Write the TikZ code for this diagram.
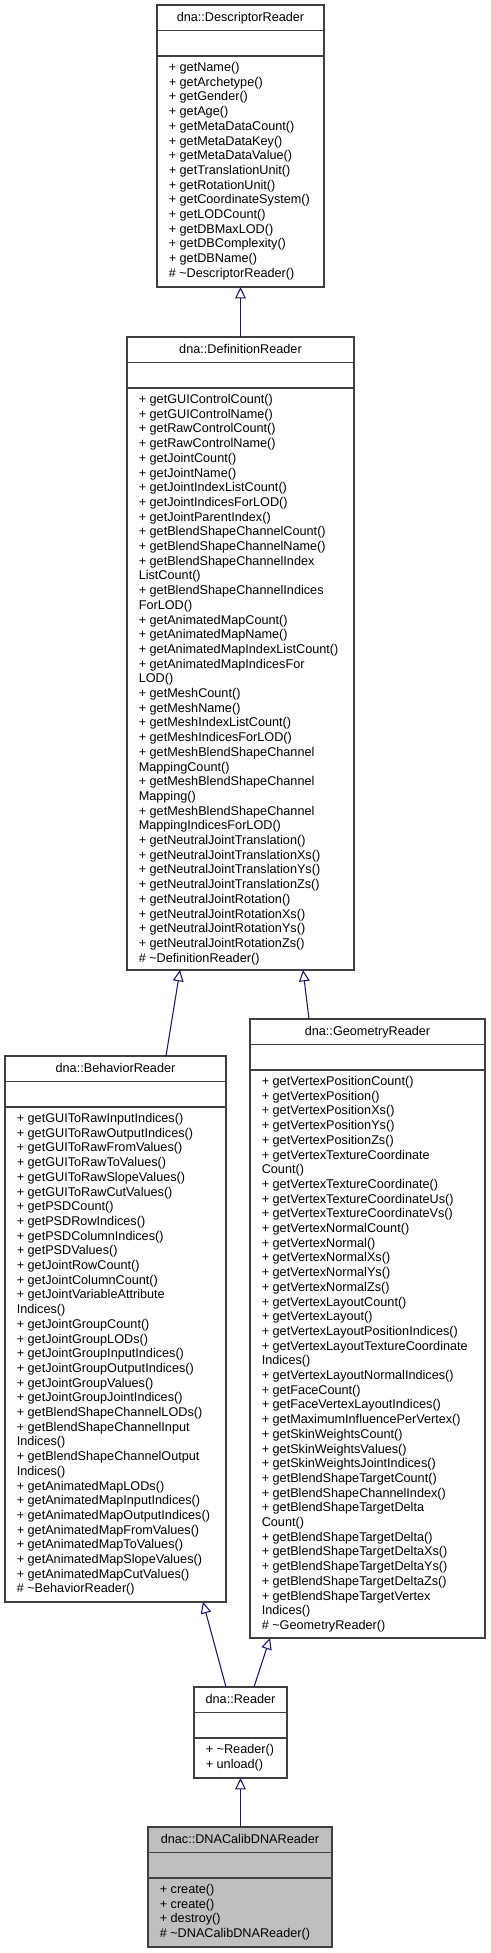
\documentclass[tikz,border=0pt]{standalone}
\usepackage{fontspec}
\setmainfont{Liberation Sans}
\usetikzlibrary{arrows.meta,calc}

\definecolor{edgeblue}{HTML}{191970}
\definecolor{boxgray}{HTML}{404040}
\definecolor{hlfill}{HTML}{BFBFBF}

\tikzset{
  cls/.style={draw=boxgray, line width=0.9pt, fill=white, rectangle, inner sep=0pt, outer sep=0pt},
  clsline/.style={draw=boxgray, line width=0.9pt},
  clstitle/.style={anchor=base, inner sep=0pt, font=\fontsize{9.5}{11}\selectfont},
  clsrow/.style={anchor=base west, inner sep=0pt, font=\fontsize{9.5}{11}\selectfont},
  inh/.style={draw=edgeblue, line width=0.8pt, -{Triangle[open, length=8.5pt, width=8pt]}}
}

\begin{document}
\begin{tikzpicture}[x=0.75pt, y=-0.75pt]
    \useasboundingbox (0,0) rectangle (490,1953);

    % class boxes
    \node[cls, minimum width=125.25pt, minimum height=211.5pt] (desc) at (240.5,146) {};
    \node[cls, minimum width=170.25pt, minimum height=474.75pt] (def) at (240.5,653.5) {};
    \node[cls, minimum width=165.75pt, minimum height=409.5pt] (beh) at (115.5,1329) {};
    \node[cls, minimum width=176.25pt, minimum height=464.25pt] (geo) at (367.5,1328.5) {};
    \node[cls, minimum width=69.75pt, minimum height=68.25pt] (rdr) at (240.5,1732.5) {};
    \node[cls, fill=hlfill, minimum width=138pt, minimum height=90pt] (calib) at (240,1887) {};

    % compartments
    \foreach \b in {desc,def,beh,geo,rdr,calib} {
        \draw[clsline] ($(\b.north west)+(0,25.5)$) -- ($(\b.north east)+(0,25.5)$);
        \draw[clsline] ($(\b.north west)+(0,51)$) -- ($(\b.north east)+(0,51)$);
    }

    \node[clstitle] (desc-t) at ($(desc.north)+(0,16.5)$) {dna::DescriptorReader};
    \foreach \t [count=\i] in {+ getName(), + getArchetype(), + getGender(), + getAge(), + getMetaDataCount(), + getMetaDataKey(), + getMetaDataValue(), + getTranslationUnit(), + getRotationUnit(), + getCoordinateSystem(), + getLODCount(), + getDBMaxLOD(), + getDBComplexity(), + getDBName(), \# \textasciitilde DescriptorReader()}
        \node[clsrow] (desc-\i) at ($(desc.north west)+(11.5,{66.5+(\i-1)*14.7})$) {\t};

    \node[clstitle] (def-t) at ($(def.north)+(0,16.5)$) {dna::DefinitionReader};
    \foreach \t [count=\i] in {+ getGUIControlCount(), + getGUIControlName(), + getRawControlCount(), + getRawControlName(), + getJointCount(), + getJointName(), + getJointIndexListCount(), + getJointIndicesForLOD(), + getJointParentIndex(), + getBlendShapeChannelCount(), + getBlendShapeChannelName(), + getBlendShapeChannelIndex, ListCount(), + getBlendShapeChannelIndices, ForLOD(), + getAnimatedMapCount(), + getAnimatedMapName(), + getAnimatedMapIndexListCount(), + getAnimatedMapIndicesFor, LOD(), + getMeshCount(), + getMeshName(), + getMeshIndexListCount(), + getMeshIndicesForLOD(), + getMeshBlendShapeChannel, MappingCount(), + getMeshBlendShapeChannel, Mapping(), + getMeshBlendShapeChannel, MappingIndicesForLOD(), + getNeutralJointTranslation(), + getNeutralJointTranslationXs(), + getNeutralJointTranslationYs(), + getNeutralJointTranslationZs(), + getNeutralJointRotation(), + getNeutralJointRotationXs(), + getNeutralJointRotationYs(), + getNeutralJointRotationZs(), \# \textasciitilde DefinitionReader()}
        \node[clsrow] (def-\i) at ($(def.north west)+(11.5,{66.5+(\i-1)*14.7})$) {\t};

    \node[clstitle] (beh-t) at ($(beh.north)+(0,16.5)$) {dna::BehaviorReader};
    \foreach \t [count=\i] in {+ getGUIToRawInputIndices(), + getGUIToRawOutputIndices(), + getGUIToRawFromValues(), + getGUIToRawToValues(), + getGUIToRawSlopeValues(), + getGUIToRawCutValues(), + getPSDCount(), + getPSDRowIndices(), + getPSDColumnIndices(), + getPSDValues(), + getJointRowCount(), + getJointColumnCount(), + getJointVariableAttribute, Indices(), + getJointGroupCount(), + getJointGroupLODs(), + getJointGroupInputIndices(), + getJointGroupOutputIndices(), + getJointGroupValues(), + getJointGroupJointIndices(), + getBlendShapeChannelLODs(), + getBlendShapeChannelInput, Indices(), + getBlendShapeChannelOutput, Indices(), + getAnimatedMapLODs(), + getAnimatedMapInputIndices(), + getAnimatedMapOutputIndices(), + getAnimatedMapFromValues(), + getAnimatedMapToValues(), + getAnimatedMapSlopeValues(), + getAnimatedMapCutValues(), \# \textasciitilde BehaviorReader()}
        \node[clsrow] (beh-\i) at ($(beh.north west)+(11.5,{66.5+(\i-1)*14.7})$) {\t};

    \node[clstitle] (geo-t) at ($(geo.north)+(0,16.5)$) {dna::GeometryReader};
    \foreach \t [count=\i] in {+ getVertexPositionCount(), + getVertexPosition(), + getVertexPositionXs(), + getVertexPositionYs(), + getVertexPositionZs(), + getVertexTextureCoordinate, Count(), + getVertexTextureCoordinate(), + getVertexTextureCoordinateUs(), + getVertexTextureCoordinateVs(), + getVertexNormalCount(), + getVertexNormal(), + getVertexNormalXs(), + getVertexNormalYs(), + getVertexNormalZs(), + getVertexLayoutCount(), + getVertexLayout(), + getVertexLayoutPositionIndices(), + getVertexLayoutTextureCoordinate, Indices(), + getVertexLayoutNormalIndices(), + getFaceCount(), + getFaceVertexLayoutIndices(), + getMaximumInfluencePerVertex(), + getSkinWeightsCount(), + getSkinWeightsValues(), + getSkinWeightsJointIndices(), + getBlendShapeTargetCount(), + getBlendShapeChannelIndex(), + getBlendShapeTargetDelta, Count(), + getBlendShapeTargetDelta(), + getBlendShapeTargetDeltaXs(), + getBlendShapeTargetDeltaYs(), + getBlendShapeTargetDeltaZs(), + getBlendShapeTargetVertex, Indices(), \# \textasciitilde GeometryReader()}
        \node[clsrow] (geo-\i) at ($(geo.north west)+(11.5,{66.5+(\i-1)*14.7})$) {\t};

    \node[clstitle] (rdr-t) at ($(rdr.north)+(0,16.5)$) {dna::Reader};
    \foreach \t [count=\i] in {+ \textasciitilde Reader(), + unload()}
        \node[clsrow] (rdr-\i) at ($(rdr.north west)+(11.5,{66.5+(\i-1)*14.7})$) {\t};

    \node[clstitle] (calib-t) at ($(calib.north)+(0,16.5)$) {dnac::DNACalibDNAReader};
    \foreach \t [count=\i] in {+ create(), + create(), + destroy(), \# \textasciitilde DNACalibDNAReader()}
        \node[clsrow] (calib-\i) at ($(calib.north west)+(11.5,{66.5+(\i-1)*14.7})$) {\t};

    % inheritance
    \draw[inh] (def.north) -- (desc.south);
    \draw[inh] ($(beh.north)+(50.5,0)$) -- ($(def.south)+(-60.5,0)$);
    \draw[inh] ($(geo.north)+(-58.5,0)$) -- ($(def.south)+(62.5,0)$);
    \draw[inh] ($(rdr.north)+(-14.5,0)$) -- ($(beh.south)+(87.5,0)$);
    \draw[inh] ($(rdr.north)+(13.5,0)$) -- ($(geo.south)+(-97.5,0)$);
    \draw[inh] ($(calib.north)+(0.5,0)$) -- (rdr.south);

\end{tikzpicture}
\end{document}
